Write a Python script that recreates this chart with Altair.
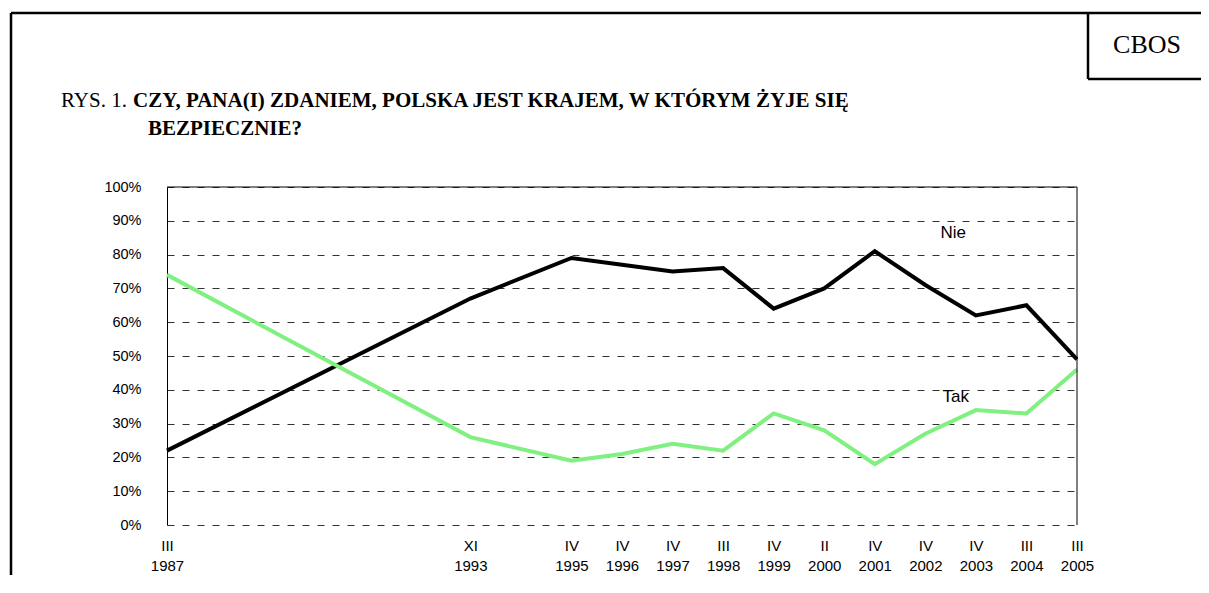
import json
import altair as alt
import pandas as pd

# ---- data ----
years = [1987, 1993, 1995, 1996, 1997, 1998, 1999, 2000, 2001, 2002, 2003, 2004, 2005]
months = ["III", "XI", "IV", "IV", "IV", "III", "IV", "II", "IV", "IV", "IV", "III", "III"]
nie = [22, 67, 79, 77, 75, 76, 64, 70, 81, 71, 62, 65, 49]
tak = [74, 26, 19, 21, 24, 22, 33, 28, 18, 27, 34, 33, 46]
series_names = ["Nie", "Tak"]
series_colors = ["#000000", "#80f080"]
y_ticks = [0, 10, 20, 30, 40, 50, 60, 70, 80, 90, 100]
ann_text = ["Nie", "Tak"]
ann_year = [2002.55, 2002.6]
ann_value = [86.5, 38.0]

title_prefix = "RYS. 1."
title_line1 = "CZY, PANA(I) ZDANIEM, POLSKA JEST KRAJEM, W KTÓRYM ŻYJE SIĘ"
title_line2 = "BEZPIECZNIE?"
corner_text = "CBOS"

W, H = 910, 338

df = pd.DataFrame({
    "year": years * 2,
    "value": nie + tak,
    "series": ["Nie"] * len(years) + ["Tak"] * len(years),
})
ann = pd.DataFrame({"year": ann_year, "value": ann_value, "text": ann_text})
one = pd.DataFrame({"d": [0]})

label_expr = (
    f"[{json.dumps(months)}[indexof({json.dumps(years)}, datum.value)], '' + datum.value]"
)

x_enc = alt.X(
    "year:Q",
    scale=alt.Scale(domain=[1987, 2005], nice=False, zero=False),
    axis=alt.Axis(
        values=years, tickCount=len(years), labelExpr=label_expr, title=None,
        grid=False, ticks=False, domain=False, labelFlush=False, labelPadding=13,
        labelFont="Liberation Sans", labelFontSize=15, labelColor="#000000",
        labelLineHeight=20, labelBaseline="top", labelAlign="center",
        labelOverlap=False,
    ),
)
y_enc = alt.Y(
    "value:Q",
    scale=alt.Scale(domain=[0, 100], nice=False),
    axis=alt.Axis(
        values=y_ticks, tickCount=len(y_ticks), labelExpr="datum.value + '%'",
        title=None, grid=True, gridDash=[7, 8], gridColor="#333333", gridWidth=1,
        ticks=False, domain=True, domainColor="#000000", domainWidth=1,
        labelPadding=26, labelFont="Liberation Sans", labelFontSize=14.5,
        labelColor="#000000", labelOverlap=False,
    ),
)

lines = alt.Chart(df).mark_line(strokeWidth=4, strokeJoin="miter").encode(
    x=x_enc,
    y=y_enc,
    color=alt.Color("series:N", scale=alt.Scale(domain=series_names, range=series_colors), legend=None),
    order=alt.Order("year:Q"),
)

annotations = alt.Chart(ann).mark_text(
    font="Liberation Sans", fontSize=17, color="#000000", align="center", baseline="middle"
).encode(x="year:Q", y="value:Q", text="text:N")

base = alt.Chart(one)
top_rule = base.mark_rule(color="#000000", strokeWidth=1).encode(
    x=alt.value(0), x2=alt.value(W), y=alt.value(0))
right_rule = base.mark_rule(color="#000000", strokeWidth=1).encode(
    x=alt.value(W), y=alt.value(0), y2=alt.value(H))

frame_top = base.mark_rule(color="#000000", strokeWidth=2.5).encode(
    x=alt.value(-156), x2=alt.value(1034), y=alt.value(-174))
frame_left = base.mark_rule(color="#000000", strokeWidth=2.5).encode(
    x=alt.value(-156), y=alt.value(-174), y2=alt.value(H + 60))
box_left = base.mark_rule(color="#000000", strokeWidth=2.5).encode(
    x=alt.value(921), y=alt.value(-174), y2=alt.value(-108))
box_bottom = base.mark_rule(color="#000000", strokeWidth=2.5).encode(
    x=alt.value(921), x2=alt.value(1034), y=alt.value(-108))

cbos = base.mark_text(font="Liberation Serif", fontSize=26, color="#000000",
                      align="center", baseline="alphabetic").encode(
    x=alt.value(980), y=alt.value(-134), text=alt.value(corner_text))
t_prefix = base.mark_text(font="Liberation Serif", fontSize=21, color="#000000",
                          align="left", baseline="alphabetic").encode(
    x=alt.value(-106), y=alt.value(-80), text=alt.value(title_prefix))
t_line1 = base.mark_text(font="Liberation Serif", fontSize=21, fontWeight="bold",
                         color="#000000", align="left", baseline="alphabetic").encode(
    x=alt.value(-34), y=alt.value(-80), text=alt.value(title_line1))
t_line2 = base.mark_text(font="Liberation Serif", fontSize=21, fontWeight="bold",
                         color="#000000", align="left", baseline="alphabetic").encode(
    x=alt.value(-19), y=alt.value(-52), text=alt.value(title_line2))

chart = alt.layer(
    lines, annotations, top_rule, right_rule,
    frame_top, frame_left, box_left, box_bottom, cbos, t_prefix, t_line1, t_line2,
).properties(
    width=W, height=H,
    autosize=alt.AutoSizeParams(type="none"),
    padding={"left": 159, "top": 179, "right": 124, "bottom": 50},
    background="#ffffff",
).configure_view(stroke=None)

chart.save("out.html", embed_options={"renderer": "svg", "actions": False})
